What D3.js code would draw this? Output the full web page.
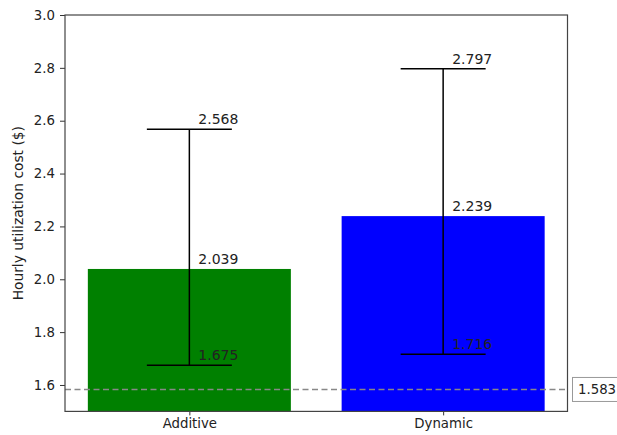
<!DOCTYPE html>
<html>
<head>
<meta charset="utf-8">
<script src="https://cdn.jsdelivr.net/npm/d3@7"></script>
<style>
  html, body { margin: 0; padding: 0; background: #fff; }
  svg { display: block; }
  text { font-family: "DejaVu Sans", sans-serif; fill: #222; }
</style>
</head>
<body>
<svg id="chart" width="617" height="435"></svg>
<script>
// Mean hourly cost per scaling strategy, with min/max spread
const categories = ["Additive", "Dynamic"];
const means = [2.039, 2.239];
const lows = [1.675, 1.716];
const highs = [2.568, 2.797];
const barColors = ["#008000", "#0000ff"];
const baseline = 1.583;
const yTicks = [1.6, 1.8, 2.0, 2.2, 2.4, 2.6, 2.8, 3.0];

const svg = d3.select("#chart");
const m = { left: 65, right: 50, top: 15, bottom: 24 };
const W = 617, H = 435;
const plotR = W - m.right + 0.5, plotB = H - m.bottom + 0.4;
const fs = 13.3;

// Category positions 0..n-1 with matplotlib-style padding
const x = d3.scaleLinear().domain([-0.49, 1.49]).range([m.left, plotR]);
const y = d3.scaleLinear().domain([1.5, 3.0]).range([plotB, m.top]);
const barW = x(0.8) - x(0);
const capHalf = 42.5;

const g = svg.append("g");

// Bars
g.selectAll("rect.bar").data(categories).join("rect")
  .attr("x", (d, i) => x(i) - barW / 2)
  .attr("y", (d, i) => y(means[i]))
  .attr("width", barW)
  .attr("height", (d, i) => y(1.5) - y(means[i]))
  .attr("fill", (d, i) => barColors[i]);

// Baseline reference (dashed)
g.append("line")
  .attr("x1", m.left).attr("x2", plotR)
  .attr("y1", y(baseline)).attr("y2", y(baseline))
  .attr("stroke", "#888").attr("stroke-width", 1.6)
  .attr("stroke-dasharray", "6,3.5");

// Error bars
categories.forEach((c, i) => {
  const cx = x(i);
  g.append("line").attr("x1", cx).attr("x2", cx)
    .attr("y1", y(lows[i])).attr("y2", y(highs[i]))
    .attr("stroke", "#000").attr("stroke-width", 1.5);
  [lows[i], highs[i]].forEach(v => {
    g.append("line").attr("x1", cx - capHalf).attr("x2", cx + capHalf)
      .attr("y1", y(v)).attr("y2", y(v))
      .attr("stroke", "#000").attr("stroke-width", 1.5);
  });
  // Value labels
  [highs[i], means[i], lows[i]].forEach(v => {
    g.append("text")
      .attr("x", cx + 9).attr("y", y(v) - 5)
      .attr("font-size", 14)
      .text(v.toFixed(3));
  });
});

// Axes
const yAxis = d3.axisLeft(y).tickValues(yTicks).tickFormat(d3.format(".1f")).tickSize(5).tickPadding(5);
const gy = svg.append("g").attr("transform", `translate(${m.left},0)`).call(yAxis);
gy.select(".domain").remove();
gy.selectAll("text").attr("font-size", fs).attr("font-family", "DejaVu Sans, sans-serif").attr("fill", "#222");
gy.selectAll("line").attr("stroke", "#333");

const xAxis = d3.axisBottom(x).tickValues([0, 1]).tickFormat((d, i) => categories[d]).tickSize(4).tickPadding(3);
const gx = svg.append("g").attr("transform", `translate(0,${plotB})`).call(xAxis);
gx.select(".domain").remove();
gx.selectAll("text").attr("font-size", fs).attr("font-family", "DejaVu Sans, sans-serif").attr("fill", "#222");
gx.selectAll("line").attr("stroke", "#333");

// Frame
svg.append("rect")
  .attr("x", m.left).attr("y", m.top)
  .attr("width", plotR - m.left).attr("height", plotB - m.top)
  .attr("fill", "none").attr("stroke", "#444").attr("stroke-width", 1.2);

// Baseline value tag
const tagX = 572.5, tagY = y(baseline);
svg.append("rect")
  .attr("x", tagX).attr("y", tagY - 12)
  .attr("width", 60).attr("height", 24)
  .attr("fill", "#fff").attr("stroke", "#999").attr("stroke-width", 1);
svg.append("text")
  .attr("x", tagX + 5.5).attr("y", tagY + 5)
  .attr("font-size", 13.3)
  .text(baseline.toFixed(3));

// Y axis title
svg.append("text")
  .attr("transform", `translate(23,${(m.top + plotB) / 2}) rotate(-90)`)
  .attr("text-anchor", "middle")
  .attr("font-size", fs + 0.5)
  .text("Hourly utilization cost ($)");
</script>
</body>
</html>
